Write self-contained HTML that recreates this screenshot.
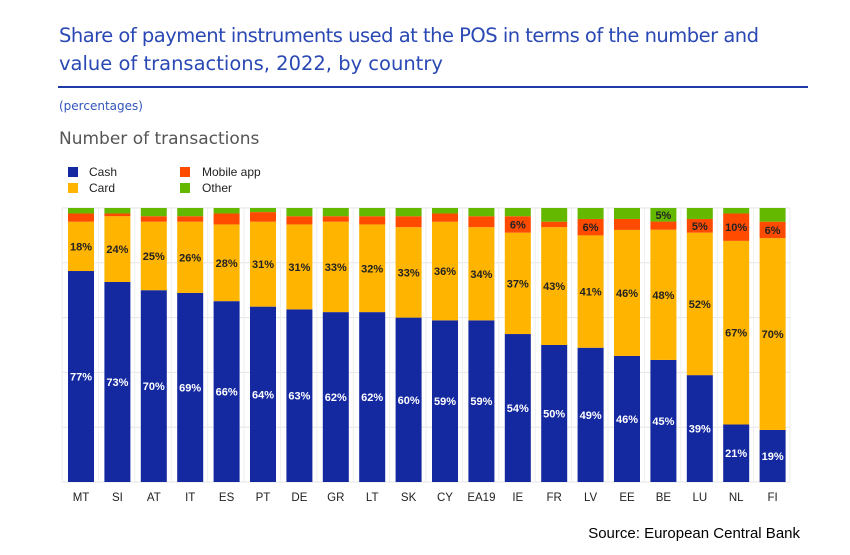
<!DOCTYPE html>
<html><head><meta charset="utf-8"><style>
body{margin:0;background:#fff;width:850px;height:550px;overflow:hidden;font-family:"Liberation Sans",Arial,sans-serif}
</style></head><body>
<svg id="s" width="850" height="550" xmlns="http://www.w3.org/2000/svg" font-family="Liberation Sans, Arial, sans-serif">
<text x="59" y="42" font-size="19.5" fill="#2a48b4" font-family="DejaVu Sans, sans-serif" textLength="700">Share of payment instruments used at the POS in terms of the number and</text>
<text x="59" y="70" font-size="19.5" fill="#2a48b4" font-family="DejaVu Sans, sans-serif">value of transactions, 2022, by country</text>
<rect x="58" y="86" width="750" height="2" fill="#1e3aa6"/>
<text x="59" y="110" font-size="12" fill="#3355bb" font-family="DejaVu Sans, sans-serif">(percentages)</text>
<text x="59" y="144" font-size="17" fill="#555" font-family="DejaVu Sans, sans-serif">Number of transactions</text>
<rect x="68" y="167" width="10" height="10" fill="#1428a0"/><text x="89" y="176" font-size="12" fill="#222">Cash</text>
<rect x="68" y="183" width="10" height="10" fill="#ffb400"/><text x="89" y="192" font-size="12" fill="#222">Card</text>
<rect x="180" y="167" width="10" height="10" fill="#ff4b00"/><text x="202" y="176" font-size="12" fill="#222">Mobile app</text>
<rect x="180" y="183" width="10" height="10" fill="#65b800"/><text x="202" y="192" font-size="12" fill="#222">Other</text>
<g id="g"></g>
<text x="800" y="538" font-size="15" fill="#000" text-anchor="end">Source: European Central Bank</text>
</svg>
<script>
(function(){
var d=[["MT",77,18,3,2],["SI",73,24,1,2],["AT",70,25,2,3],["IT",69,26,2,3],["ES",66,28,4,2],["PT",64,31,3.5,1.5],["DE",63,31,3,3],["GR",62,33,2,3],["LT",62,32,3,3],["SK",60,33,4,3],["CY",59,36,3,2],["EA19",59,34,4,3],["IE",54,37,6,3],["FR",50,43,2,5],["LV",49,41,6,4],["EE",46,46,4,4],["BE",45,48,3,5],["LU",39,52,5,4],["NL",21,67,10,2],["FI",19,70,6,5]];
var T=208,B=482,H=B-T,s="";
for(var i=0;i<=5;i++){var y=B-i*H/5;s+='<line x1="62" x2="790" y1="'+y+'" y2="'+y+'" stroke="#e6e6e6"/>';}
for(var i=0;i<=20;i++){var x=62+i*36.4;s+='<line x1="'+x+'" x2="'+x+'" y1="'+T+'" y2="'+B+'" stroke="#eeeeee"/>';}
var cols=["#1428a0","#ffb400","#ff4b00","#65b800"];
d.forEach(function(r,i){var cx=81+i*36.4,x=cx-13,y=B;
 var tot=r[1]+r[2]+r[3]+r[4];
 for(var k=0;k<4;k++){var h=r[k+1]/tot*H;y-=h;
  s+='<rect x="'+x+'" y="'+y+'" width="26" height="'+h+'" fill="'+cols[k]+'"/>';
  var lab=(k<2)||(k==2&&r[3]>=5)||(k==3&&r[0]=="BE");
  if(lab)s+='<text x="'+cx+'" y="'+(y+h/2+4)+'" font-size="11" font-weight="bold" text-anchor="middle" fill="'+(k==0?"#fff":"#222")+'">'+Math.round(r[k+1])+'%</text>';}
 s+='<text x="'+cx+'" y="501" font-size="11.5" text-anchor="middle" fill="#222">'+r[0]+'</text>';});
document.getElementById("g").innerHTML=s;
})();
</script>
</body></html>
